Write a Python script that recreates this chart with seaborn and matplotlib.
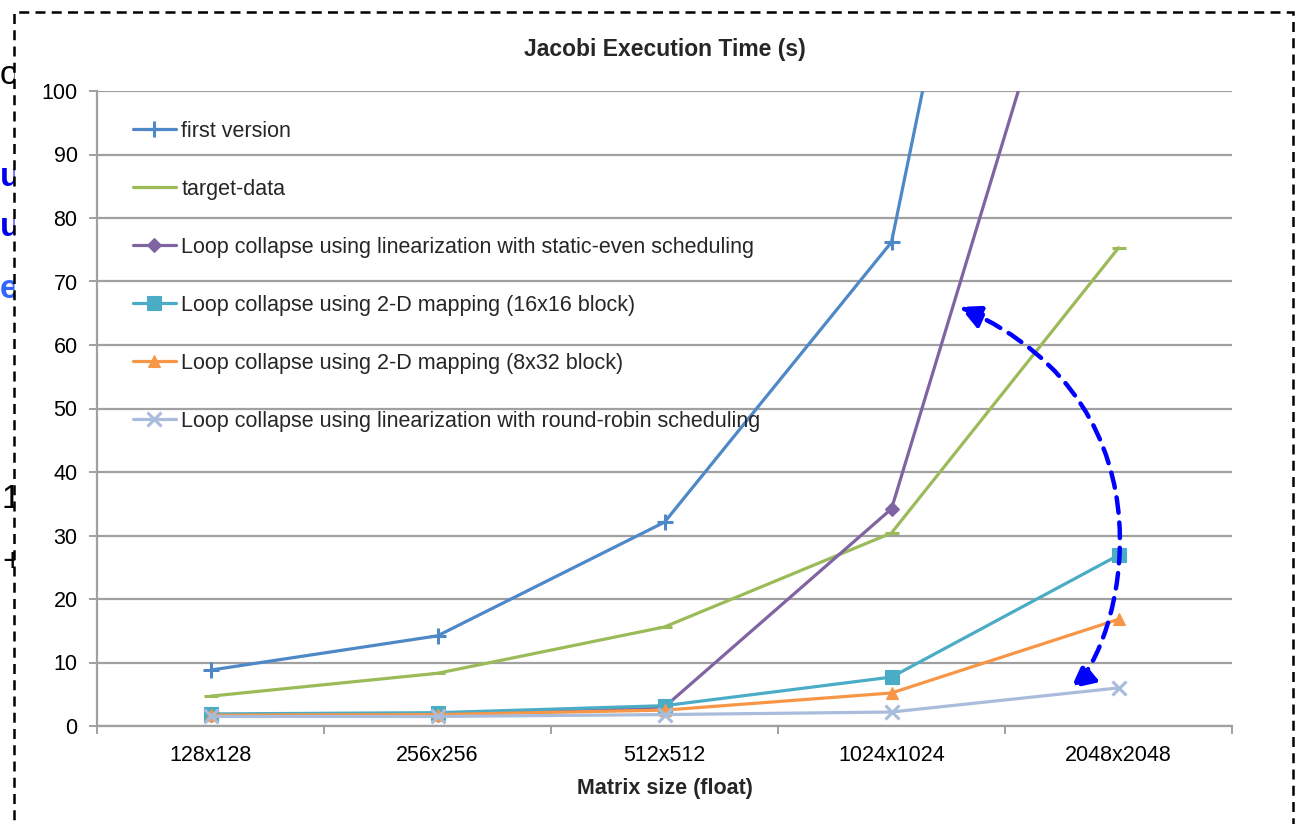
import numpy as np
import pandas as pd
import matplotlib
matplotlib.use("Agg")
import matplotlib.pyplot as plt
import seaborn as sns
from matplotlib.patches import Rectangle, FancyArrowPatch
from matplotlib.path import Path

# ---- data -------------------------------------------------------------
sizes = ["128x128", "256x256", "512x512", "1024x1024", "2048x2048"]

first_version = [8.8, 14.2, 32.1, 76.2, 250.0]
target_data = [4.7, 8.3, 15.6, 30.4, 75.3]
static_even = [1.7, 1.8, 3.0, 34.2, 152.0]
mapping_16x16 = [1.9, 2.1, 3.2, 7.7, 26.9]
mapping_8x32 = [1.7, 1.8, 2.5, 5.2, 16.8]
round_robin = [1.5, 1.5, 1.8, 2.2, 6.0]

series_names = [
    "first version",
    "target-data",
    "Loop collapse using linearization with static-even scheduling",
    "Loop collapse using 2-D mapping (16x16 block)",
    "Loop collapse using 2-D mapping (8x32 block)",
    "Loop collapse using linearization with round-robin scheduling",
]
series_values = [first_version, target_data, static_even,
                 mapping_16x16, mapping_8x32, round_robin]
colors = ["#4F88C6", "#9BBB59", "#8064A2", "#4BACC6", "#F79646", "#A9BCDB"]
markers = ["+", "_", "D", "s", "^", "x"]
marker_sizes = [11, 10, 7, 10, 9, 10]

df = pd.DataFrame({
    "size": np.tile(sizes, len(series_names)),
    "pos": np.tile(np.arange(len(sizes)), len(series_names)),
    "series": np.repeat(series_names, len(sizes)),
    "time": np.concatenate(series_values),
})

# ---- figure -----------------------------------------------------------
sns.set_theme(style="white")
plt.rcParams["font.family"] = ["Liberation Sans", "DejaVu Sans"]

W, H = 1301, 824
fig = plt.figure(figsize=(W / 100, H / 100), dpi=100)
fig.patch.set_facecolor("white")

# slide text peeking out from behind the chart frame
frag_style = dict(fontsize=24, va="center", ha="left", zorder=0.5)
fig.text(0 / W, 1 - 75 / H, "or", color="black", **frag_style)
fig.text(0 / W, 1 - 178 / H, "ue", color="#0000EE", fontweight="bold", **frag_style)
fig.text(0 / W, 1 - 228 / H, "u", color="#0000EE", fontweight="bold", **frag_style)
fig.text(0 / W, 1 - 290 / H, "e", color="#3366FF", fontweight="bold", **frag_style)
fig.text(2 / W, 1 - 500 / H, "1", color="black", **frag_style)
fig.text(2 / W, 1 - 562 / H, "+", color="black", **frag_style)

# white chart frame with dashed border
frame = Rectangle((14 / W, -0.05), (1293 - 14) / W, 1.05 - 12 / H,
                  transform=fig.transFigure, facecolor="white",
                  edgecolor="black", linewidth=1.8, linestyle=(0, (4, 2.5)),
                  zorder=0.6)
fig.patches.append(frame)

ax = fig.add_axes([97 / W, (H - 726) / H, (1232 - 97) / W, (726 - 91) / H])
ax.set_zorder(2)
ax.patch.set_alpha(0)

for name, col, mk, ms in zip(series_names, colors, markers, marker_sizes):
    sub = df[df["series"] == name]
    sns.lineplot(data=sub, x="pos", y="time", ax=ax, color=col, label=name,
                 marker=mk, markersize=ms, markeredgewidth=2.2 if mk in "+x_" else 0.8,
                 markeredgecolor=col, linewidth=2.3, errorbar=None, sort=False)

ax.set_xlim(-0.5, len(sizes) - 0.5)
ax.set_ylim(0, 100)
ax.set_yticks(np.arange(0, 101, 10))
ax.set_xticks(np.arange(len(sizes)))
ax.set_xticklabels(sizes)
ax.set_xticks(np.arange(-0.5, len(sizes), 1.0), minor=True)

grid_col = "#A0A0A0"
ax.yaxis.grid(True, color=grid_col, linewidth=1.6)
ax.xaxis.grid(False)
for side in ["top", "right"]:
    ax.spines[side].set_visible(False)
for side in ["left", "bottom"]:
    ax.spines[side].set_color(grid_col)
    ax.spines[side].set_linewidth(1.6)

ax.tick_params(axis="y", which="major", left=True, length=6, width=1.4,
               color=grid_col, labelsize=15.5, pad=8, labelcolor="black")
ax.tick_params(axis="x", which="major", bottom=False, labelsize=15.5, pad=8,
               labelcolor="black")
ax.tick_params(axis="x", which="minor", bottom=True, length=6, width=1.4,
               color=grid_col)

ax.set_xlabel("Matrix size (float)", fontsize=15.5, fontweight="bold", labelpad=8)
ax.set_ylabel("")
ax.set_title("Jacobi Execution Time (s)", fontsize=16.5, fontweight="bold", pad=25)

leg = ax.legend(loc="upper left", bbox_to_anchor=(0.024, 0.967), frameon=False,
                fontsize=15.5, labelspacing=1.72, handlelength=2.0,
                handletextpad=0.25, borderaxespad=0)

# dashed double-headed arrow between the slow and fast variants
arc = Path([(3.30, 66.0), (4.30, 50.0), (4.00, 12.0), (3.79, 5.9)],
           [Path.MOVETO, Path.CURVE4, Path.CURVE4, Path.CURVE4])
arrow = FancyArrowPatch(path=arc, arrowstyle="<|-|>,head_length=14,head_width=7",
                        color="#0000FF", linewidth=3.2,
                        linestyle=(0, (3.5, 2.2)), zorder=5, clip_on=False)
ax.add_patch(arrow)

fig.savefig("out.png", dpi=100, facecolor="white")
